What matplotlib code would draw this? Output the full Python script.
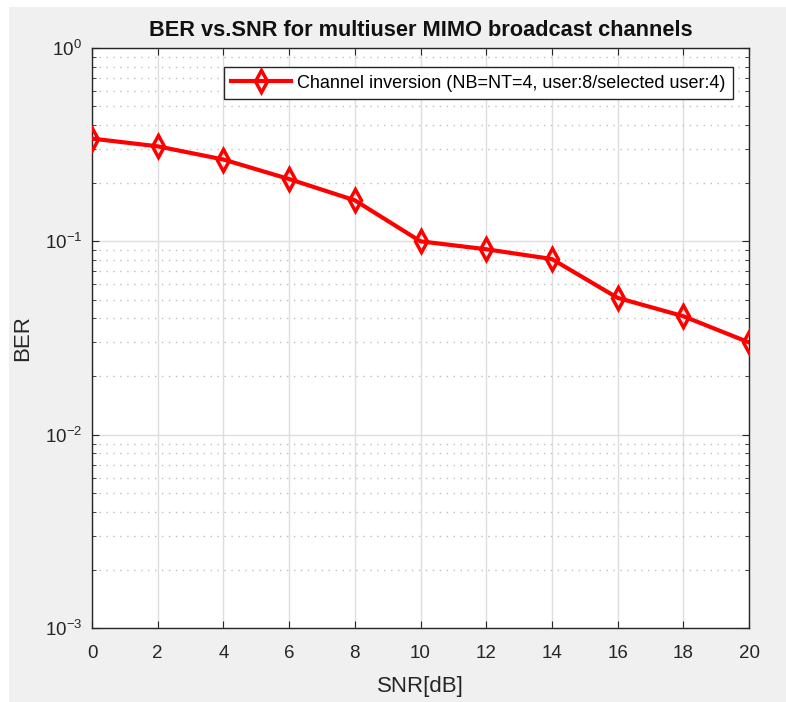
import matplotlib
matplotlib.use("Agg")
from matplotlib import pyplot as plt
from matplotlib.patches import Rectangle
import numpy as np

snr_db = [0, 2, 4, 6, 8, 10, 12, 14, 16, 18, 20]
ber = [0.34, 0.31, 0.265, 0.21, 0.163, 0.10, 0.091, 0.081, 0.051, 0.041, 0.030]
series_label = "Channel inversion (NB=NT=4, user:8/selected user:4)"

plt.rcParams['font.family'] = ['Liberation Sans', 'DejaVu Sans']

W, H = 786, 702
fig = plt.figure(figsize=(W / 100, H / 100), dpi=100, facecolor='white')
# grey window area
fig.patches.append(Rectangle((9 / W, 0), 1, 1 - 7 / H, transform=fig.transFigure,
                             facecolor='#f0f0f0', edgecolor='none', zorder=-10))

ax = fig.add_axes([92 / W, 1 - 628 / H, (749 - 92) / W, (628 - 48) / H])
ax.set_facecolor('white')

ax.plot(snr_db, ber, color='red', lw=3, marker='d', markersize=11,
        markerfacecolor='none', markeredgecolor='red', markeredgewidth=2.5,
        label=series_label, zorder=3)

ax.set_yscale('log')
ax.set_xlim(0, 20)
ax.set_ylim(1e-3, 1)
ax.set_xticks(np.arange(0, 21, 2))

ax.grid(True, which='major', color='#dedede', lw=1, ls='-')
ax.grid(True, which='minor', axis='y', color='#bdbdbd', lw=1, ls=(0, (1, 4)))
ax.tick_params(which='both', direction='in', top=True, right=True, labelsize=13.5,
               colors='#262626')
ax.tick_params(axis='x', pad=12)
ax.tick_params(axis='y', pad=7)
ax.tick_params(which='major', length=5)
ax.tick_params(which='minor', length=3)
for s in ax.spines.values():
    s.set_color('#262626')
    s.set_linewidth(1)

ax.set_xlabel('SNR[dB]', fontsize=16, color='#262626')
ax.set_ylabel('BER', fontsize=16, color='#262626')
ax.xaxis.set_label_coords(0.5, -0.082)
ax.yaxis.set_label_coords(-0.09, 0.5)
ax.set_title('BER vs.SNR for multiuser MIMO broadcast channels', fontsize=15.7,
             fontweight='bold', color='#111111', pad=9)

leg = ax.legend(loc='upper right', bbox_to_anchor=(0.976, 0.967), fontsize=13,
                fancybox=False, framealpha=1, edgecolor='#262626',
                handlelength=3.3, borderpad=0.42, handletextpad=0.35,
                borderaxespad=0)
leg.get_frame().set_linewidth(1)

fig.savefig('out.png', dpi=100, facecolor=fig.get_facecolor())
